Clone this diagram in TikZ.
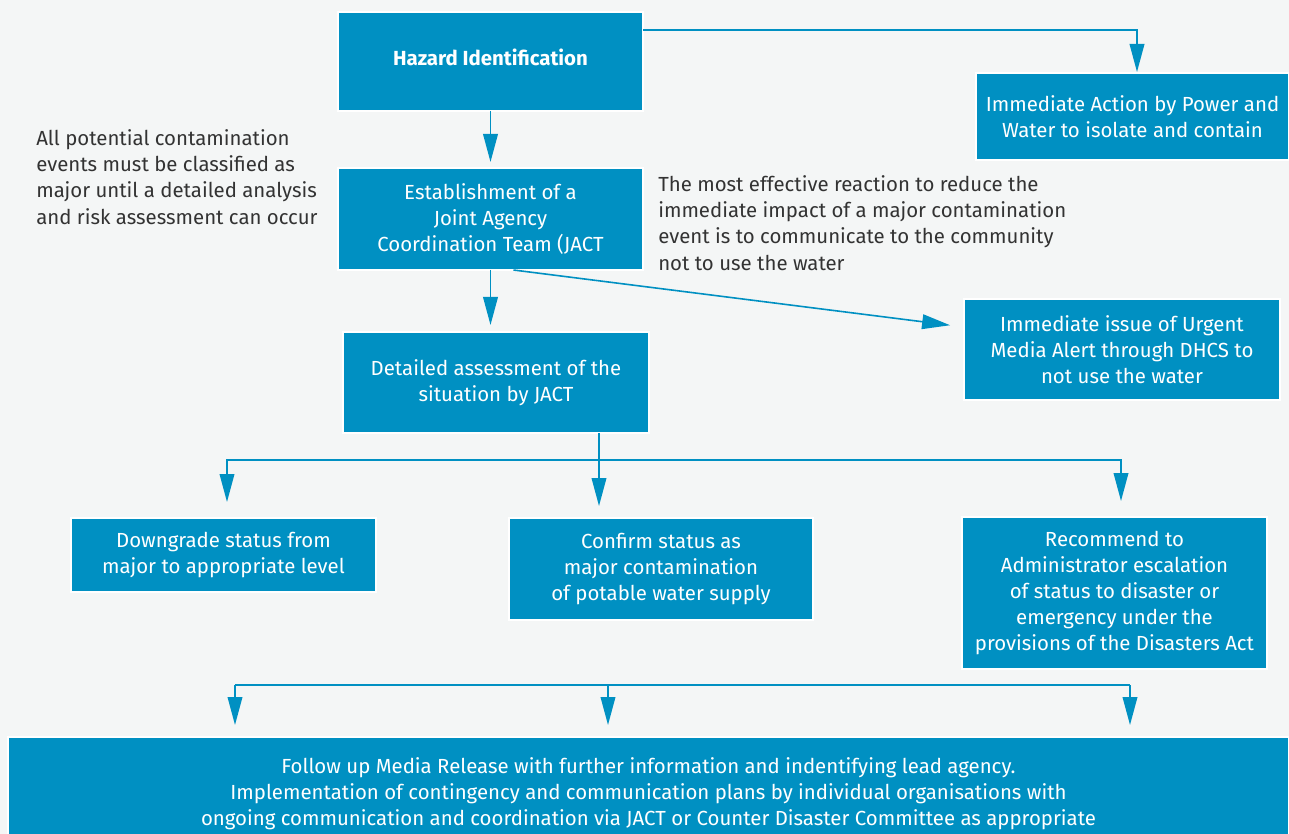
\documentclass[tikz,border=0pt]{standalone}
\usepackage{fontspec}
\setmainfont{Fira Sans}
\usepackage{tikz}
\usetikzlibrary{arrows.meta,positioning,calc}

\definecolor{flowblue}{RGB}{0,144,194}
\definecolor{pagebg}{RGB}{244,246,246}
\definecolor{notegray}{RGB}{51,51,51}

\begin{document}
\begin{tikzpicture}[
  x=0.75pt, y=-0.75pt,
  box/.style={
    draw=white,
    line width=1.5pt,
    fill=flowblue,
    text=white,
    align=center,
    inner sep=0pt,
    outer sep=0pt,
    font=\fontsize{15.3}{19.6}\selectfont
  },
  note/.style={
    align=left,
    text=notegray,
    inner sep=0pt,
    font=\fontsize{15.3}{19.6}\selectfont
  },
  line/.style={-{Triangle[length=21pt,width=11pt]}, flowblue, line width=1.2pt},
  bus/.style={flowblue, line width=1.1pt}
]

% Page
\useasboundingbox[fill=pagebg] (0,0) rectangle (1289,834);

% Top row
\node[box,minimum width=228.75pt,minimum height=74.25pt] (hazard) at (490.5,61.5)
  {\raisebox{-2.7pt}[0pt][0pt]{\textbf{Hazard Identification}}};

\node[box,minimum width=234.75pt,minimum height=65.25pt] (action) at (1132.5,116.5)
  {Immediate Action by Power and\\Water to isolate and contain};

% Coordination
\node[box,below=42.75pt of hazard,minimum width=228.75pt,minimum height=76.5pt] (jact)
  {Establishment of a\\Joint Agency\\Coordination Team (JACT};

\node[box,minimum width=229.5pt,minimum height=75.75pt] (detail) at (496,382.5)
  {Detailed assessment of the\\situation by JACT};

\node[box,minimum width=237pt,minimum height=75.75pt] (alert) at (1122,349.5)
  {Immediate issue of Urgent\\Media Alert through DHCS to\\not use the water};

% Notes
\node[note,anchor=west] (classnote) at (36,177)
  {All potential contamination\\events must be classified as\\major until a detailed analysis\\and risk assessment can occur};

\node[note,anchor=west] (reactnote) at (658,223)
  {The most effective reaction to reduce the\\immediate impact of a major contamination\\event is to communicate to the community\\not to use the water};

% Outcomes
\node[box,minimum width=228.75pt,minimum height=55.5pt] (downgrade) at (223.5,555)
  {Downgrade status from\\major to appropriate level};

\node[box,minimum width=228pt,minimum height=76.5pt] (confirm) at (661,569)
  {Confirm status as\\major contamination\\of potable water supply};

\node[box,minimum width=228.75pt,minimum height=114pt] (recommend) at (1114.5,593)
  {Recommend to\\Administrator escalation\\of status to disaster or\\emergency under the\\provisions of the Disasters Act};

% Follow up (runs off the page bottom)
\node[box,minimum width=960.75pt,minimum height=85.5pt] (followup) at (648.5,794)
  {Follow up Media Release with further information and indentifying lead agency.\\
   Implementation of contingency and communication plans by individual organisations with\\
   ongoing communication and coordination via JACT or Counter Disaster Committee as appropriate};

% Split points
\coordinate (split1) at (599,460);
\coordinate (busleft) at (235,685);
\coordinate (busmid) at (608,685);
\coordinate (busright) at (1130,685);

% Arrows
\draw[line,shorten >=4.5pt] (hazard.south) -- (jact.north);
\draw[line,shorten >=0.75pt] ($(hazard.north east)+(0,18)$) -| ($(action.north)+(4.5,0)$);
\draw[line,shorten >=5.25pt] (jact.south) -- (jact.south |- detail.north);
\draw[line,shorten >=10.5pt] ($(jact.south)+(23,0)$) -- ($(alert.north west)+(0,28)$);

% Outcome split
\draw[bus] (detail.south -| split1) -- (split1);
\draw[line,shorten >=12pt] (split1) -| ($(downgrade.north)+(3.5,0)$);
\draw[line,shorten >=9pt] (split1) -- (split1 |- confirm.north);
\draw[line,shorten >=12pt] (split1) -| ($(recommend.north)+(6.5,0)$);

% Follow up split
\draw[bus] (busleft) -- (busright);
\draw[line,shorten >=9pt] (busleft) -- (busleft |- followup.north);
\draw[line,shorten >=9pt] (busmid) -- (busmid |- followup.north);
\draw[line,shorten >=9pt] (busright) -- (busright |- followup.north);

\end{tikzpicture}
\end{document}
